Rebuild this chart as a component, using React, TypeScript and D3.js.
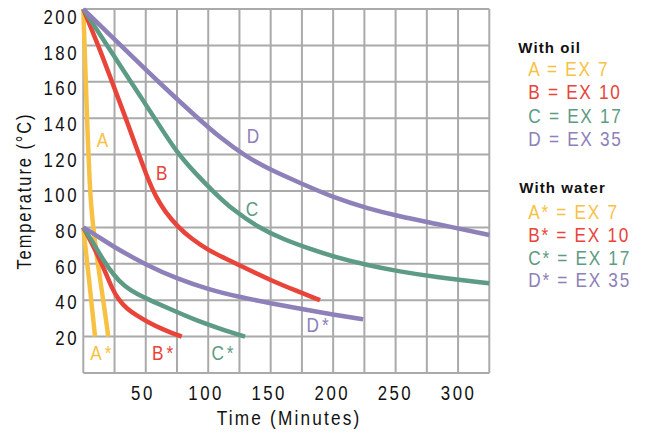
import React from "react";
import * as d3 from "d3";

const W = 647;
const H = 434;

const xTicks = [50, 100, 150, 200, 250, 300];
const yTicks = [20, 40, 60, 80, 100, 120, 140, 160, 180, 200];

const colors = {
  A: "#F7C244",
  B: "#E8443A",
  C: "#5E9B84",
  D: "#8E80B8",
};

// [time (min), temperature (°C)]
const oilA: [number, number][] = [[0, 200], [2, 160], [3.5, 130], [5, 105], [6.7, 88], [9, 74], [12, 58], [16, 40], [20, 20]];
const oilB: [number, number][] = [[0, 200], [12, 180], [23, 160], [34, 140], [44, 121], [52, 106], [58, 97], [65, 89], [76, 80], [87, 73.5], [100, 67.5], [115, 62.5], [130, 57.5], [150, 51], [170, 45.3], [189.5, 40]];
const oilC: [number, number][] = [[0, 200], [20, 179], [40, 158], [60, 137], [75, 121], [90, 109.5], [105, 99], [120, 89.5], [140, 80], [160, 73.5], [180, 68.5], [200, 64], [227, 59.3], [253.5, 55.7], [280, 52.9], [325, 49.3]];
const oilD: [number, number][] = [[0, 200], [30, 180], [60, 160], [90, 141], [110, 129], [130, 119], [150, 111.5], [175, 104], [200, 96.5], [227, 90.5], [253.5, 86], [280, 82.3], [325, 75.8]];

const waterA: [number, number][] = [[0, 80], [2.4, 65], [4.8, 50], [7.1, 35], [9.4, 20]];
const waterB: [number, number][] = [[0, 80], [6, 72.5], [12, 64], [18, 55], [23, 46.5], [28, 40.5], [35, 35.2], [43, 31.5], [52, 27.8], [64, 23.8], [78.8, 20]];
const waterC: [number, number][] = [[0, 80], [8, 71.5], [16, 62], [24, 54], [33, 47.5], [43, 43.3], [55, 39.5], [70, 35], [90, 29], [110, 24.2], [129.5, 20]];
const waterD: [number, number][] = [[0, 80], [10, 75.8], [25, 69], [50, 59.5], [75, 51.8], [100, 46], [125, 41.8], [150, 38.3], [175, 35.1], [200, 32.1], [224, 29.5]];

const series = [
  { key: "A", data: oilA },
  { key: "B", data: oilB },
  { key: "C", data: oilC },
  { key: "D", data: oilD },
  { key: "A", data: waterA },
  { key: "B", data: waterB },
  { key: "C", data: waterC },
  { key: "D", data: waterD },
];

// curve labels in data coordinates
const curveLabels = [
  { text: "A", key: "A", t: 15.4, v: 128 },
  { text: "B", key: "B", t: 62.8, v: 110.2 },
  { text: "C", key: "C", t: 135, v: 90.1 },
  { text: "D", key: "D", t: 135.8, v: 130.2 },
  { text: "A*", key: "A", t: 14.1, v: 11 },
  { text: "B*", key: "B", t: 63.4, v: 11 },
  { text: "C*", key: "C", t: 111.4, v: 11 },
  { text: "D*", key: "D", t: 187.5, v: 26.4 },
];

const oilLegend = [
  { key: "A", text: "A = EX 7" },
  { key: "B", text: "B = EX 10" },
  { key: "C", text: "C = EX 17" },
  { key: "D", text: "D = EX 35" },
];
const waterLegend = [
  { key: "A", text: "A* = EX 7" },
  { key: "B", text: "B* = EX 10" },
  { key: "C", text: "C* = EX 17" },
  { key: "D", text: "D* = EX 35" },
];

const FONT = "'Liberation Sans', Arial, Helvetica, sans-serif";
const SX = 0.82; // horizontal condensing of the glyphs

type TxtProps = {
  x: number;
  y: number;
  anchor?: "start" | "middle" | "end";
  size: number;
  ls: number;
  fill: string;
  rotate?: number;
  weight?: string;
  children: React.ReactNode;
};

function Txt({ x, y, anchor = "start", size, ls, fill, rotate, weight, children }: TxtProps) {
  // compensate the trailing letter spacing for the anchor
  const shift = anchor === "end" ? ls : anchor === "middle" ? ls / 2 : 0;
  const rot = rotate ? ` rotate(${rotate})` : "";
  return (
    <g transform={`translate(${x},${y})${rot} translate(${shift},0) scale(${SX},1)`}>
      <text
        x={0}
        y={0}
        textAnchor={anchor}
        dominantBaseline="central"
        fontFamily={FONT}
        fontSize={size}
        fontWeight={weight}
        letterSpacing={ls / SX}
        fill={fill}
      >
        {children}
      </text>
    </g>
  );
}

export default function App() {
  const x = d3.scaleLinear().domain([0, 325]).range([83.3, 489.3]);
  const y = d3.scaleLinear().domain([0, 200]).range([373, 9]);
  const xLabel = d3.scaleLinear().domain([50, 300]).range([141.7, 457.3]);
  const yLabel = d3.scaleLinear().domain([20, 200]).range([338, 16.7]);

  const line = d3
    .line<[number, number]>()
    .x((d) => x(d[0]))
    .y((d) => y(d[1]))
    .curve(d3.curveBasis);

  const vGrid = d3.range(0, 326, 25);
  const hGrid = d3.range(0, 201, 20);
  const grid = "#AAAAAA";

  return (
    <svg
      width={W}
      height={H}
      style={{ position: "absolute", left: 0, top: 0, background: "#fff" }}
    >
      <rect x={0} y={0} width={W} height={H} fill="#fff" />
      {vGrid.map((t) => (
        <line key={"v" + t} x1={x(t)} x2={x(t)} y1={y(200)} y2={y(0)} stroke={grid} strokeWidth={2} />
      ))}
      {hGrid.map((v) => (
        <line key={"h" + v} x1={x(0)} x2={x(325)} y1={y(v)} y2={y(v)} stroke={grid} strokeWidth={2} />
      ))}

      {series.map((s, i) => (
        <path
          key={i}
          d={line(s.data) || ""}
          fill="none"
          stroke={(colors as any)[s.key]}
          strokeWidth={4.5}
        />
      ))}

      {yTicks.map((v) => (
        <Txt key={"yt" + v} x={76.5} y={yLabel(v)} anchor="end" size={20.5} ls={2.5} fill="#111">
          {v}
        </Txt>
      ))}
      {xTicks.map((t) => (
        <Txt key={"xt" + t} x={xLabel(t)} y={393} anchor="middle" size={20.5} ls={2.5} fill="#111">
          {t}
        </Txt>
      ))}

      <Txt x={288} y={418} anchor="middle" size={21} ls={2.2} fill="#111">
        Time (Minutes)
      </Txt>
      <Txt x={24} y={192} anchor="middle" size={20} ls={1.95} fill="#111" rotate={-90}>
        Temperature (°C)
      </Txt>

      {curveLabels.map((l, i) => (
        <Txt
          key={"cl" + i}
          x={x(l.t)}
          y={y(l.v)}
          anchor="middle"
          size={21}
          ls={3}
          fill={(colors as any)[l.key]}
        >
          {l.text}
        </Txt>
      ))}

      <text x={518.3} y={47} dominantBaseline="central" fontFamily={FONT} fontWeight="bold" fontSize={15} letterSpacing={1.1} fill="#111">
        With oil
      </text>
      {oilLegend.map((l, i) => (
        <Txt key={"ol" + i} x={528.3} y={69 + i * 23.3} size={21} ls={1.7} fill={(colors as any)[l.key]}>
          {l.text}
        </Txt>
      ))}
      <text x={519.3} y={187.3} dominantBaseline="central" fontFamily={FONT} fontWeight="bold" fontSize={15} letterSpacing={1.1} fill="#111">
        With water
      </text>
      {waterLegend.map((l, i) => (
        <Txt key={"wl" + i} x={528.3} y={212.3 + i * 22.6} size={21} ls={1.7} fill={(colors as any)[l.key]}>
          {l.text}
        </Txt>
      ))}
    </svg>
  );
}
